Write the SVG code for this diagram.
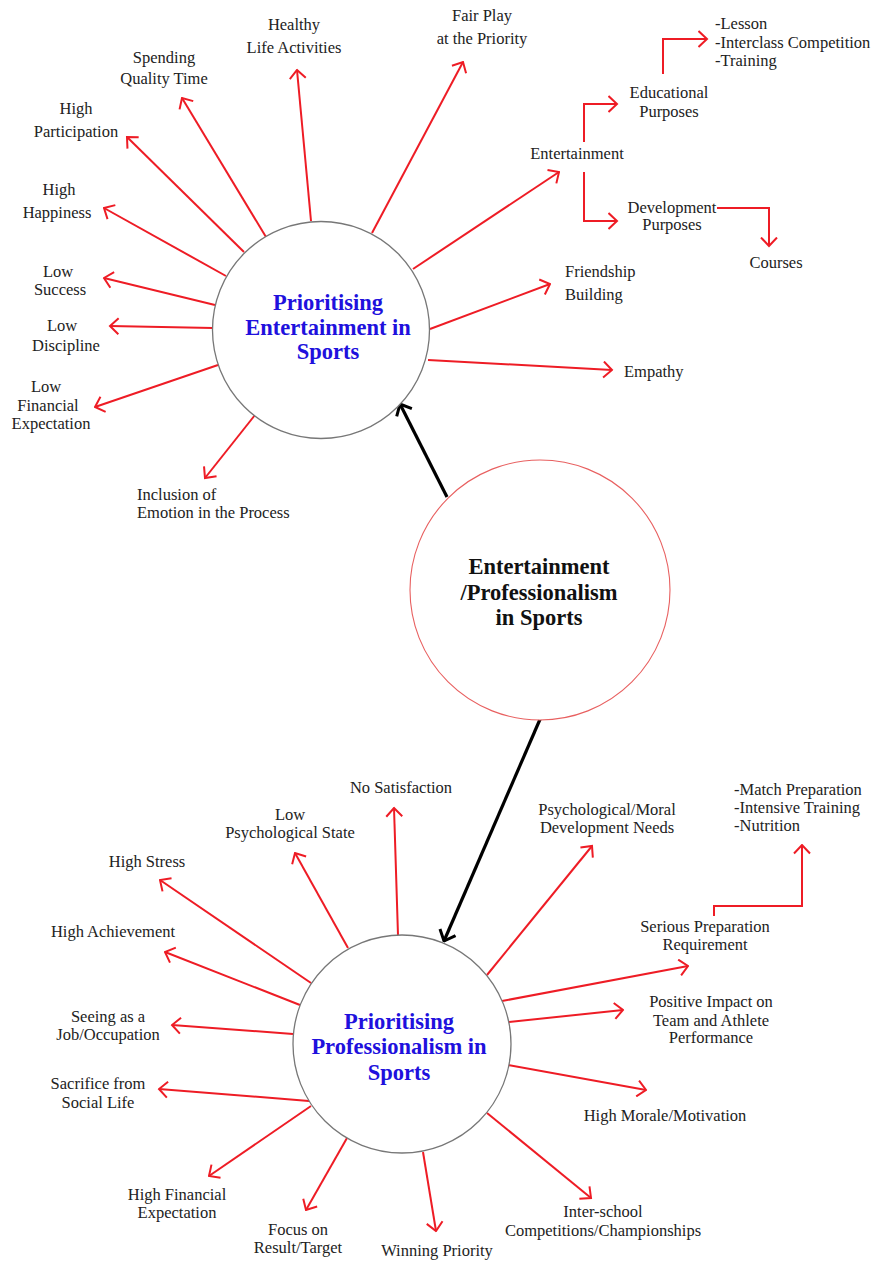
<svg xmlns="http://www.w3.org/2000/svg" width="872" height="1261" viewBox="0 0 872 1261">
<style>
.lbl{font-family:"Liberation Serif","Times New Roman",serif;font-size:16.5px;fill:#222;}
.mid{text-anchor:middle;}
.hub{font-family:"Liberation Serif","Times New Roman",serif;font-size:22.5px;font-weight:bold;fill:#2010dd;text-anchor:middle;}
.core{font-family:"Liberation Serif","Times New Roman",serif;font-size:22.5px;font-weight:bold;fill:#111;text-anchor:middle;}
.r{stroke:#ee1c25;stroke-width:2;fill:none;marker-end:url(#ra);}
.k{stroke:#000;stroke-width:3.2;fill:none;marker-end:url(#ka);}
</style>
<defs>
<marker id="ra" viewBox="0 0 11 18" refX="9.5" refY="9" markerWidth="11" markerHeight="18" markerUnits="userSpaceOnUse" orient="auto">
<path d="M1,1 L9.5,9 L1,17" fill="none" stroke="#ee1c25" stroke-width="2"/>
</marker>
<marker id="ka" viewBox="0 0 12 20" refX="10.5" refY="10" markerWidth="12" markerHeight="20" markerUnits="userSpaceOnUse" orient="auto">
<path d="M1,1.5 L10.5,10 L1,18.5" fill="none" stroke="#000" stroke-width="3"/>
</marker>
</defs>
<rect width="872" height="1261" fill="#fff"/>

<g id="connectors">
<line class="k" x1="447" y1="497" x2="400" y2="404"/>
<line class="k" x1="541" y1="717" x2="444" y2="941"/>
<line class="r" x1="311" y1="221" x2="297" y2="70"/>
<line class="r" x1="266" y1="237" x2="182" y2="98"/>
<line class="r" x1="244" y1="252" x2="127" y2="137"/>
<line class="r" x1="226" y1="276" x2="104" y2="208"/>
<line class="r" x1="215" y1="305" x2="104" y2="278"/>
<line class="r" x1="213" y1="328" x2="110" y2="326"/>
<line class="r" x1="218" y1="365" x2="95" y2="407"/>
<line class="r" x1="255" y1="415" x2="205" y2="478"/>
<line class="r" x1="372" y1="233" x2="463" y2="62"/>
<line class="r" x1="413" y1="269" x2="559" y2="172"/>
<line class="r" x1="430" y1="329" x2="550" y2="284"/>
<line class="r" x1="428" y1="360" x2="612" y2="370"/>
<polyline class="r" points="584,142 584,104 617,104"/>
<polyline class="r" points="584,172 584,221 617,221"/>
<polyline class="r" points="663,74 663,39 707,39"/>
<polyline class="r" points="717,208 769,208 769,246"/>
<line class="r" x1="398" y1="935" x2="394" y2="808"/>
<line class="r" x1="348" y1="948" x2="295" y2="853"/>
<line class="r" x1="311" y1="983" x2="160" y2="880"/>
<line class="r" x1="300" y1="1005" x2="165" y2="952"/>
<line class="r" x1="293" y1="1034" x2="172" y2="1025"/>
<line class="r" x1="309" y1="1101" x2="159" y2="1089"/>
<line class="r" x1="311" y1="1106" x2="209" y2="1176"/>
<line class="r" x1="347" y1="1138" x2="306" y2="1210"/>
<line class="r" x1="423" y1="1152" x2="436" y2="1231"/>
<line class="r" x1="487" y1="975" x2="592" y2="846"/>
<line class="r" x1="502" y1="1001" x2="688" y2="966"/>
<polyline class="r" points="714,916 714,906 802,906 802,845"/>
<line class="r" x1="509" y1="1022" x2="623" y2="1010"/>
<line class="r" x1="508" y1="1065" x2="646" y2="1090"/>
<line class="r" x1="487" y1="1113" x2="591" y2="1198"/>
</g>

<g id="hub-entertainment">
<circle cx="321" cy="330" r="108.5" fill="#fff" stroke="#777" stroke-width="1.3"/>
<text class="hub" x="328" y="310">Prioritising</text>
<text class="hub" x="328" y="335">Entertainment in</text>
<text class="hub" x="328" y="359">Sports</text>
</g>
<g id="core">
<circle cx="540" cy="590" r="130" fill="#fff" stroke="#e86060" stroke-width="1.1"/>
<text class="core" x="539" y="574">Entertainment</text>
<text class="core" x="539" y="600">/Professionalism</text>
<text class="core" x="539" y="625">in Sports</text>
</g>
<g id="hub-professionalism">
<circle cx="402" cy="1044" r="109" fill="#fff" stroke="#777" stroke-width="1.3"/>
<text class="hub" x="399" y="1029">Prioritising</text>
<text class="hub" x="399" y="1054">Professionalism in</text>
<text class="hub" x="399" y="1080">Sports</text>
</g>

<g id="n-healthy"><text class="lbl mid" x="294" y="30">Healthy</text><text class="lbl mid" x="294" y="53">Life Activities</text></g>
<g id="n-spending"><text class="lbl mid" x="164" y="63">Spending</text><text class="lbl mid" x="164" y="84">Quality Time</text></g>
<g id="n-participation"><text class="lbl mid" x="76" y="114">High</text><text class="lbl mid" x="76" y="137">Participation</text></g>
<g id="n-happiness"><text class="lbl mid" x="59" y="195">High</text><text class="lbl mid" x="57" y="218">Happiness</text></g>
<g id="n-success"><text class="lbl mid" x="58" y="277">Low</text><text class="lbl mid" x="60" y="295">Success</text></g>
<g id="n-discipline"><text class="lbl mid" x="62" y="331">Low</text><text class="lbl mid" x="66" y="351">Discipline</text></g>
<g id="n-financial-low"><text class="lbl mid" x="46" y="392">Low</text><text class="lbl mid" x="48" y="410.5">Financial</text><text class="lbl mid" x="51" y="428.5">Expectation</text></g>
<g id="n-inclusion"><text class="lbl" x="137" y="500">Inclusion of</text><text class="lbl" x="137" y="518">Emotion in the Process</text></g>
<g id="n-fairplay"><text class="lbl mid" x="482" y="21">Fair Play</text><text class="lbl mid" x="482" y="44">at the Priority</text></g>
<g id="n-entertainment"><text class="lbl mid" x="577" y="159">Entertainment</text></g>
<g id="n-educational"><text class="lbl mid" x="669" y="98">Educational</text><text class="lbl mid" x="669" y="117">Purposes</text></g>
<g id="n-lesson"><text class="lbl" x="715" y="29">-Lesson</text><text class="lbl" x="715" y="47.5">-Interclass Competition</text><text class="lbl" x="715" y="65.5">-Training</text></g>
<g id="n-development"><text class="lbl mid" x="672" y="213">Development</text><text class="lbl mid" x="672" y="230">Purposes</text></g>
<g id="n-courses"><text class="lbl mid" x="776" y="268">Courses</text></g>
<g id="n-friendship"><text class="lbl" x="565" y="277">Friendship</text><text class="lbl" x="565" y="300">Building</text></g>
<g id="n-empathy"><text class="lbl" x="624" y="377">Empathy</text></g>

<g id="n-nosatisfaction"><text class="lbl mid" x="401" y="793">No Satisfaction</text></g>
<g id="n-lowpsych"><text class="lbl mid" x="290" y="820">Low</text><text class="lbl mid" x="290" y="838">Psychological State</text></g>
<g id="n-stress"><text class="lbl mid" x="147" y="867">High Stress</text></g>
<g id="n-achievement"><text class="lbl mid" x="113" y="937">High Achievement</text></g>
<g id="n-job"><text class="lbl mid" x="108" y="1022">Seeing as a</text><text class="lbl mid" x="108" y="1040">Job/Occupation</text></g>
<g id="n-sacrifice"><text class="lbl mid" x="98" y="1089">Sacrifice from</text><text class="lbl mid" x="98" y="1108">Social Life</text></g>
<g id="n-financial-high"><text class="lbl mid" x="177" y="1200">High Financial</text><text class="lbl mid" x="177" y="1218">Expectation</text></g>
<g id="n-focus"><text class="lbl mid" x="298" y="1235">Focus on</text><text class="lbl mid" x="298" y="1253">Result/Target</text></g>
<g id="n-winning"><text class="lbl mid" x="437" y="1256">Winning Priority</text></g>
<g id="n-psychmoral"><text class="lbl mid" x="607" y="815">Psychological/Moral</text><text class="lbl mid" x="607" y="833">Development Needs</text></g>
<g id="n-serious"><text class="lbl mid" x="705" y="932">Serious Preparation</text><text class="lbl mid" x="705" y="950">Requirement</text></g>
<g id="n-match"><text class="lbl" x="734" y="795">-Match Preparation</text><text class="lbl" x="734" y="813">-Intensive Training</text><text class="lbl" x="734" y="831">-Nutrition</text></g>
<g id="n-positive"><text class="lbl mid" x="711" y="1007">Positive Impact on</text><text class="lbl mid" x="711" y="1026">Team and Athlete</text><text class="lbl mid" x="711" y="1043">Performance</text></g>
<g id="n-morale"><text class="lbl mid" x="665" y="1121">High Morale/Motivation</text></g>
<g id="n-interschool"><text class="lbl mid" x="603" y="1217">Inter-school</text><text class="lbl mid" x="603" y="1236">Competitions/Championships</text></g>
</svg>
